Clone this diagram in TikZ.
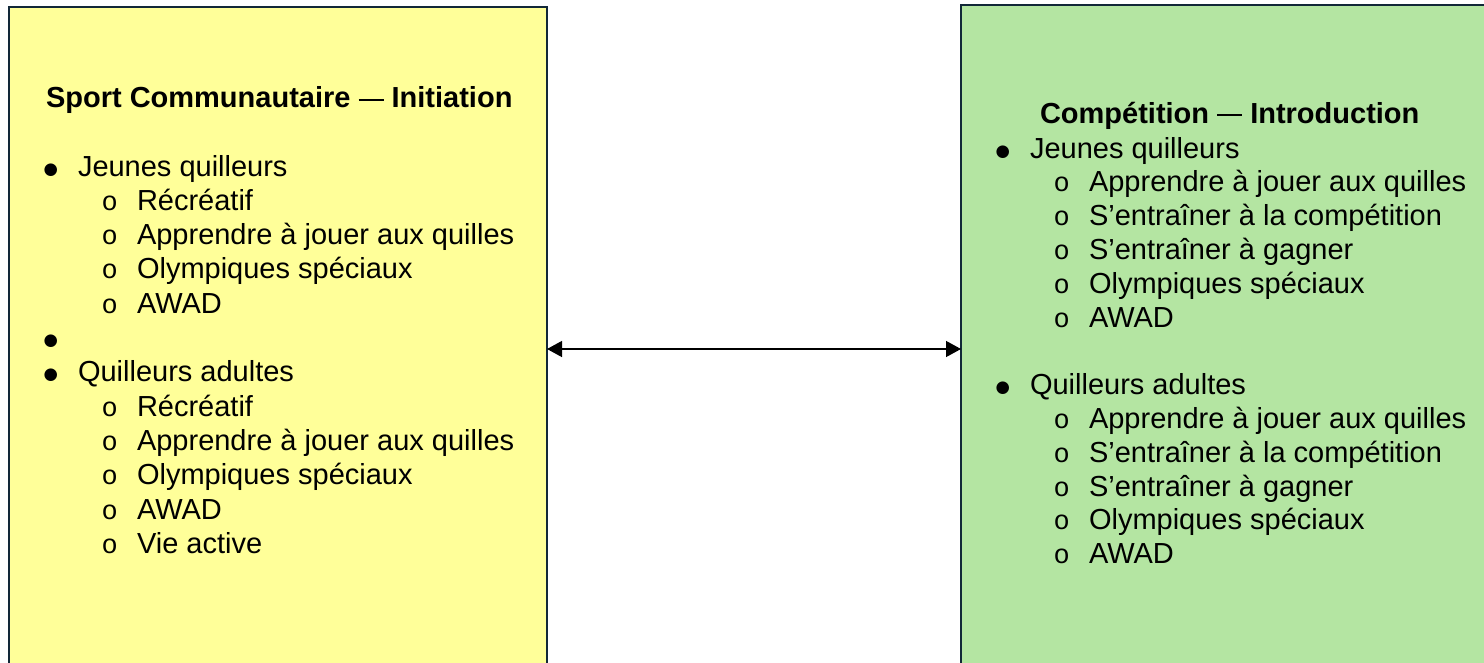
\documentclass[tikz,border=0pt]{standalone}
\usepackage{fontspec}
\setmainfont{Liberation Sans}
\newfontfamily\monof{Liberation Mono}
\newfontfamily\dvs{DejaVu Sans}
\usetikzlibrary{arrows.meta}
\definecolor{boxyellow}{RGB}{255,255,153}
\definecolor{boxgreen}{RGB}{180,229,162}
\definecolor{boxline}{RGB}{18,40,56}
\newcommand\bodysize{\fontsize{29bp}{34bp}\selectfont}
\newcommand\bigbul{\raisebox{2bp}{\fontsize{16.5bp}{18bp}\selectfont\dvs ●}}
\newcommand\ringbul{{\fontsize{27bp}{27bp}\selectfont\monof o}}
\newcommand\lvlone[1]{\makebox[34.5bp][l]{\bigbul}#1}
\newcommand\lvltwo[1]{\makebox[35.5bp][l]{\ringbul}#1}
\newcommand\ttl[2]{\textbf{#1}\ \rule[7.3bp]{25bp}{1.8bp}\ \textbf{#2}}
\begin{document}
\begin{tikzpicture}[x=1bp,y=-1bp,
  panel/.style={draw=boxline, line width=2bp, rectangle, inner sep=0pt, outer sep=0pt, anchor=north west},
  txt/.style={anchor=base west, inner sep=0pt, outer sep=0pt, font=\bodysize},
  arr/.style={{Triangle[length=15bp,width=16bp]}-{Triangle[length=15bp,width=16bp]}, line width=1.3bp, black}]
\useasboundingbox (0,0) rectangle (1484,663);
\clip (0,0) rectangle (1484,663);
% panels
\node[panel, fill=boxyellow, minimum width=538bp, minimum height=720bp] (lbox) at (9,7) {};
\node[panel, fill=boxgreen, minimum width=560bp, minimum height=720bp] (rbox) at (961,5) {};
% connector
\coordinate (ya) at (0,349);
\draw[arr] (lbox.east |- ya) -- (rbox.west |- ya);
% left panel text
\node[txt] (ltitle) at (46,108) {\ttl{Sport Communautaire}{Initiation}};
\node[txt] (l0) at (43.5,176) {\lvlone{Jeunes quilleurs}};
\node[txt] (l1) at (101.5,210.3) {\lvltwo{Récréatif}};
\node[txt] (l2) at (101.5,244.6) {\lvltwo{Apprendre à jouer aux quilles}};
\node[txt] (l3) at (101.5,278.9) {\lvltwo{Olympiques spéciaux}};
\node[txt] (l4) at (101.5,313.2) {\lvltwo{AWAD}};
\node[txt] (l5) at (43.5,347.5) {\lvlone{}};
\node[txt] (l6) at (43.5,381.8) {\lvlone{Quilleurs adultes}};
\node[txt] (l7) at (101.5,416.1) {\lvltwo{Récréatif}};
\node[txt] (l8) at (101.5,450.4) {\lvltwo{Apprendre à jouer aux quilles}};
\node[txt] (l9) at (101.5,484.7) {\lvltwo{Olympiques spéciaux}};
\node[txt] (l10) at (101.5,519) {\lvltwo{AWAD}};
\node[txt] (l11) at (101.5,553.3) {\lvltwo{Vie active}};
% right panel text
\node[txt] (rtitle) at (1040,123.5) {\ttl{Compétition}{Introduction}};
\node[txt] (r0) at (995.5,158) {\lvlone{Jeunes quilleurs}};
\node[txt] (r1) at (1053.5,191.8) {\lvltwo{Apprendre à jouer aux quilles}};
\node[txt] (r2) at (1053.5,225.6) {\lvltwo{S’entraîner à la compétition}};
\node[txt] (r3) at (1053.5,259.4) {\lvltwo{S’entraîner à gagner}};
\node[txt] (r4) at (1053.5,293.2) {\lvltwo{Olympiques spéciaux}};
\node[txt] (r5) at (1053.5,327) {\lvltwo{AWAD}};
\node[txt] (r7) at (995.5,394.6) {\lvlone{Quilleurs adultes}};
\node[txt] (r8) at (1053.5,428.4) {\lvltwo{Apprendre à jouer aux quilles}};
\node[txt] (r9) at (1053.5,462.2) {\lvltwo{S’entraîner à la compétition}};
\node[txt] (r10) at (1053.5,496) {\lvltwo{S’entraîner à gagner}};
\node[txt] (r11) at (1053.5,529.8) {\lvltwo{Olympiques spéciaux}};
\node[txt] (r12) at (1053.5,563.6) {\lvltwo{AWAD}};
\end{tikzpicture}
\end{document}
